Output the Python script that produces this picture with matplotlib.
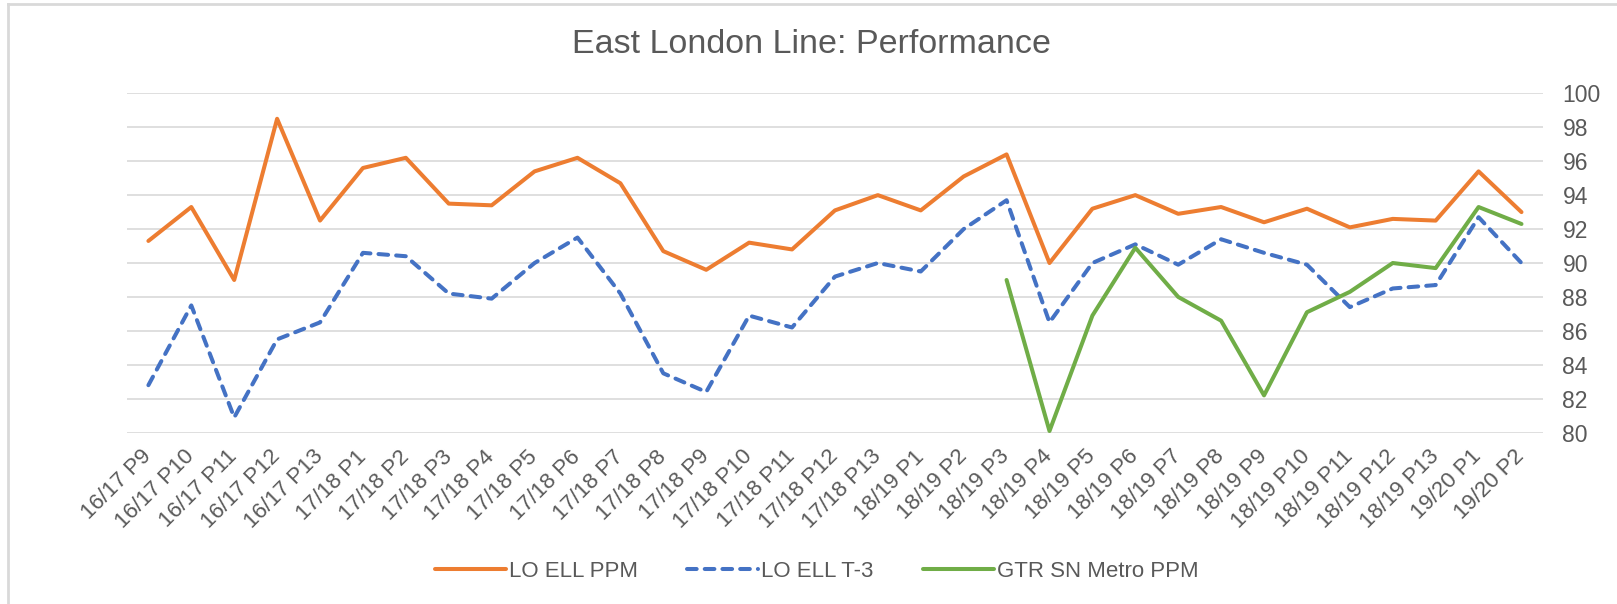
import matplotlib
matplotlib.use("Agg")
import matplotlib.pyplot as plt
import numpy as np
from matplotlib.lines import Line2D

plt.rcParams["font.family"] = ["Liberation Sans", "DejaVu Sans"]

# ---------------------------------------------------------------------------
# data
# ---------------------------------------------------------------------------
periods = (
    [f"16/17 P{p}" for p in range(9, 14)]
    + [f"17/18 P{p}" for p in range(1, 14)]
    + [f"18/19 P{p}" for p in range(1, 14)]
    + [f"19/20 P{p}" for p in range(1, 3)]
)

lo_ell_ppm = [
    91.3, 93.3, 89.0, 98.5, 92.5,
    95.6, 96.2, 93.5, 93.4, 95.4, 96.2, 94.7, 90.7, 89.6, 91.2, 90.8, 93.1, 94.0,
    93.1, 95.1, 96.4, 90.0, 93.2, 94.0, 92.9, 93.3, 92.4, 93.2, 92.1, 92.6, 92.5,
    95.4, 93.0,
]

lo_ell_t3 = [
    82.8, 87.5, 80.9, 85.5, 86.5,
    90.6, 90.4, 88.2, 87.9, 90.0, 91.5, 88.2, 83.5, 82.4, 86.9, 86.2, 89.2, 90.0,
    89.5, 92.0, 93.7, 86.5, 90.0, 91.1, 89.9, 91.4, 90.6, 89.9, 87.4, 88.5, 88.7,
    92.7, 90.0,
]

# GTR series only starts at 18/19 P3
gtr_sn_metro_ppm = [np.nan] * 20 + [
    89.0, 80.1, 86.9, 90.9, 88.0, 86.6, 82.2, 87.1, 88.3, 90.0, 89.7, 93.3, 92.3,
]

y_ticks = list(range(80, 101, 2))

# ---------------------------------------------------------------------------
# plot
# ---------------------------------------------------------------------------
TEXT = "#595959"
GRID = "#D9D9D9"

fig = plt.figure(figsize=(16.17, 6.04), dpi=100)
ax = fig.add_axes([0.0785, 0.2836, 0.8757, 0.5619])

x = np.arange(len(periods))
ax.plot(x, lo_ell_ppm, color="#ED7D31", lw=2.9, solid_capstyle="round",
        solid_joinstyle="round", label="LO ELL PPM", zorder=3)
ax.plot(x, lo_ell_t3, color="#4472C4", lw=2.9, dashes=(2.4, 2.0),
        dash_capstyle="round", dash_joinstyle="round", label="LO ELL T-3", zorder=3)
ax.plot(x, gtr_sn_metro_ppm, color="#70AD47", lw=2.9, solid_capstyle="round",
        solid_joinstyle="round", label="GTR SN Metro PPM", zorder=3)

ax.set_xlim(-0.5, len(periods) - 0.5)
ax.set_ylim(80, 100)
ax.set_yticks(y_ticks)
ax.yaxis.tick_right()
ax.grid(axis="y", color=GRID, lw=1.2)
ax.set_axisbelow(True)
for s in ax.spines.values():
    s.set_visible(False)
ax.tick_params(axis="y", length=0, pad=14, labelsize=16.5, labelcolor=TEXT)
ax.tick_params(axis="x", length=0, pad=15, labelsize=16, labelcolor=TEXT)
ax.set_xticks(x)
ax.set_xticklabels(periods, rotation=45, ha="right", va="center",
                   rotation_mode="anchor")

fig.text(0.502, 0.927, "East London Line: Performance", ha="center", va="center",
         fontsize=24.5, color=TEXT)

leg = fig.legend(loc="center", bbox_to_anchor=(0.505, 0.054), ncol=3,
                 frameon=False, fontsize=16, handlelength=3.2,
                 handletextpad=0.15, columnspacing=2.2)
for t in leg.get_texts():
    t.set_color(TEXT)

# light chart border (left + top only visible in the crop)
fig.add_artist(Line2D([0.0052, 0.0052], [0.0, 0.994], color=GRID, lw=2))
fig.add_artist(Line2D([0.0052, 1.0], [0.994, 0.994], color=GRID, lw=2))

fig.savefig("out.png", dpi=100)
plt.close(fig)
